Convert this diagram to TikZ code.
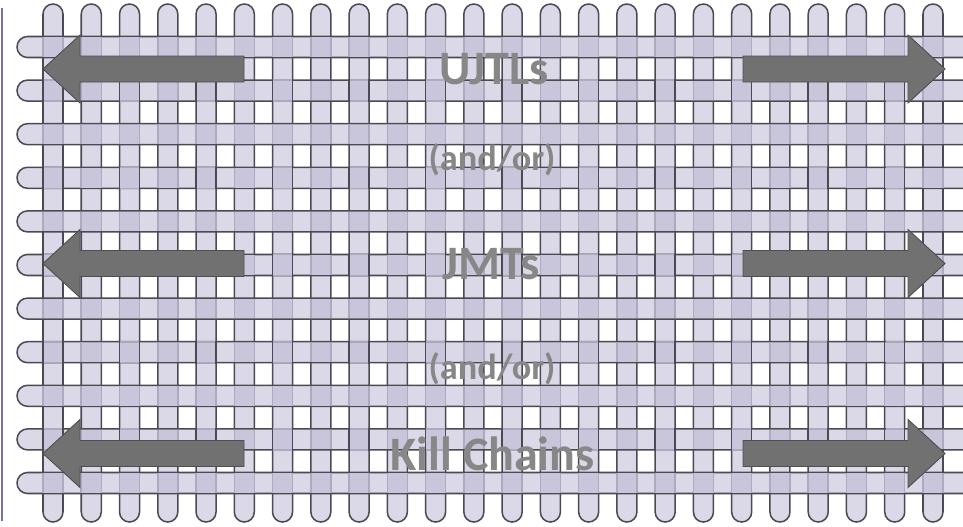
\documentclass[tikz,border=0pt]{standalone}
\usepackage{fontspec}
\setmainfont{Carlito}
\definecolor{barfill}{HTML}{DBD9E8}
\definecolor{crossfill}{HTML}{C9C6DC}
\definecolor{barline}{HTML}{4A4A52}
\definecolor{hidden}{HTML}{ADAABF}
\definecolor{arrowgray}{HTML}{717171}
\definecolor{textgray}{HTML}{878787}
\definecolor{edgeline}{HTML}{7A6EA2}

\begin{document}
\begin{tikzpicture}[x=0.03cm, y=-0.03cm, line width=1.3pt,
    vbar/.style={fill=barfill, draw=barline, rounded corners=0.3cm},
    hbar/.style={fill=barfill, draw=barline, rounded corners=0.315cm},
    bigarrow/.style={fill=arrowgray, draw=arrowgray!70!black, line width=0.8pt, line join=miter},
    word/.style={text=textgray, font=\bfseries\fontsize{41}{41}\selectfont, anchor=base, inner sep=0pt},
    joiner/.style={word, font=\bfseries\fontsize{31}{31}\selectfont}]
    \clip (0,0) rectangle (963,526);
    \fill[white] (0,0) rectangle (963,526);
    % filete roxo na borda esquerda
    \draw[edgeline, line width=2.2pt] (2,8) -- (2,521);
    % tiras verticais
    \foreach \i in {0,...,23}{
        \pgfmathsetmacro\xc{53+38.26*\i}
        \draw[vbar] (\xc-10,4) rectangle (\xc+10,522);
    }
    % tiras horizontais (saem pela borda direita)
    \foreach \k in {0,...,10}{
        \pgfmathsetmacro\yc{47+43.6*\k}
        \draw[hbar] (17,\yc-10.5) rectangle (1000,\yc+10.5);
    }
    % cruzamentos: nas linhas impares as tiras verticais pares passam por cima
    \foreach \i in {0,...,23}{
        \foreach \k in {0,...,10}{
            \pgfmathsetmacro\xc{53+38.26*\i}
            \pgfmathsetmacro\yc{47+43.6*\k}
            \pgfmathtruncatemacro\over{(mod(\k,2)==1)*(mod(\i,2)==0)}
            \fill[crossfill] (\xc-9.3,\yc-9.7) rectangle (\xc+9.3,\yc+9.7);
            \ifnum\over=1
                \draw[hidden] (\xc-9.2,\yc-10.5) -- (\xc+9.2,\yc-10.5) (\xc-9.2,\yc+10.5) -- (\xc+9.2,\yc+10.5);
                \draw[barline] (\xc-10,\yc-11.3) -- (\xc-10,\yc+11.3) (\xc+10,\yc-11.3) -- (\xc+10,\yc+11.3);
            \else
                \draw[hidden] (\xc-10,\yc-9.7) -- (\xc-10,\yc+9.7) (\xc+10,\yc-9.7) -- (\xc+10,\yc+9.7);
            \fi
        }
    }
    % setas largas
    \foreach \y in {69,263.5,453.5}{
        \draw[bigarrow] (244,\y-13) -- (80,\y-13) -- (80,\y-34) -- (43,\y) -- (80,\y+34) -- (80,\y+13) -- (244,\y+13) -- cycle;
        \draw[bigarrow] (743,\y-13) -- (908,\y-13) -- (908,\y-34) -- (945,\y) -- (908,\y+34) -- (908,\y+13) -- (743,\y+13) -- cycle;
    }
    % textos
    \node[word] (ujtls) at (494,84) {UJTLs};
    \node[joiner] (andor1) at (492,170) {(and/or)};
    \node[word] (jmts) at (491,279) {JMTs};
    \node[joiner] (andor2) at (492,379) {(and/or)};
    \node[word] (kill) at (492.5,470) {Kill Chains};
\end{tikzpicture}
\end{document}
